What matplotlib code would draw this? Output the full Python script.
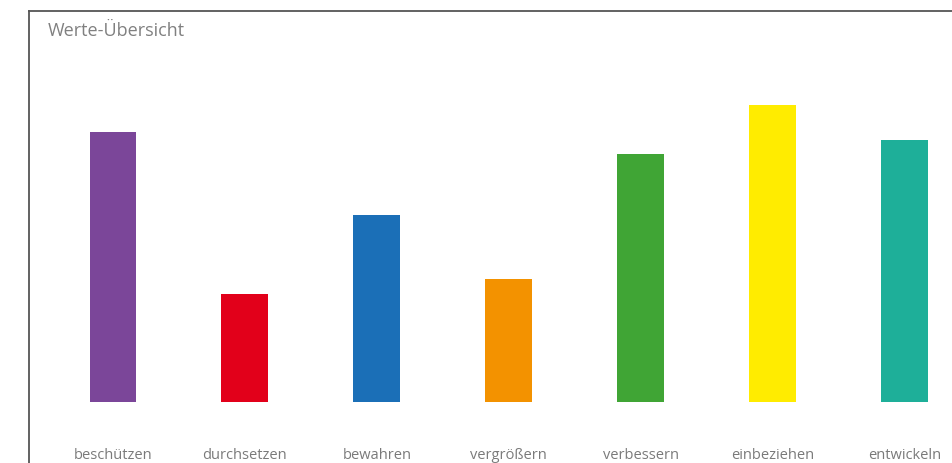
import matplotlib

matplotlib.use("Agg")
import matplotlib.pyplot as plt
import numpy as np

categories = ["beschützen", "durchsetzen", "bewahren", "vergrößern",
              "verbessern", "einbeziehen", "entwickeln"]
values = [270, 108, 187, 123, 248, 297, 262]
colors = ["#7b4699", "#e2001a", "#1b6fb7", "#f39200", "#40a535", "#ffec00", "#1eaf99"]

W, H = 953, 464
fig = plt.figure(figsize=(W / 100, H / 100), dpi=100)
ax = fig.add_axes([29 / W, 0, 1 - 29 / W, 1 - 12 / H])

x = np.arange(len(categories))
ax.bar(x, values, width=0.356, color=colors)
for xi, name in zip(x, categories):
    ax.text(xi, -53, name, ha="center", va="center", fontsize=10.5,
            family="Open Sans", color="#7a7a7a")

ax.set_xlim(-0.637, 6.369)
ax.set_ylim(-61, 391)
ax.set_xticks([])
ax.set_yticks([])
for side in ("right", "bottom"):
    ax.spines[side].set_visible(False)
for side in ("left", "top"):
    ax.spines[side].set_color("#555555")
    ax.spines[side].set_linewidth(1.3)

fig.text(48 / W, 1 - 31 / H, "Werte-Übersicht", ha="left", va="center",
         fontsize=13, family="Open Sans", color="#808080")

fig.savefig("out.png", dpi=100)
